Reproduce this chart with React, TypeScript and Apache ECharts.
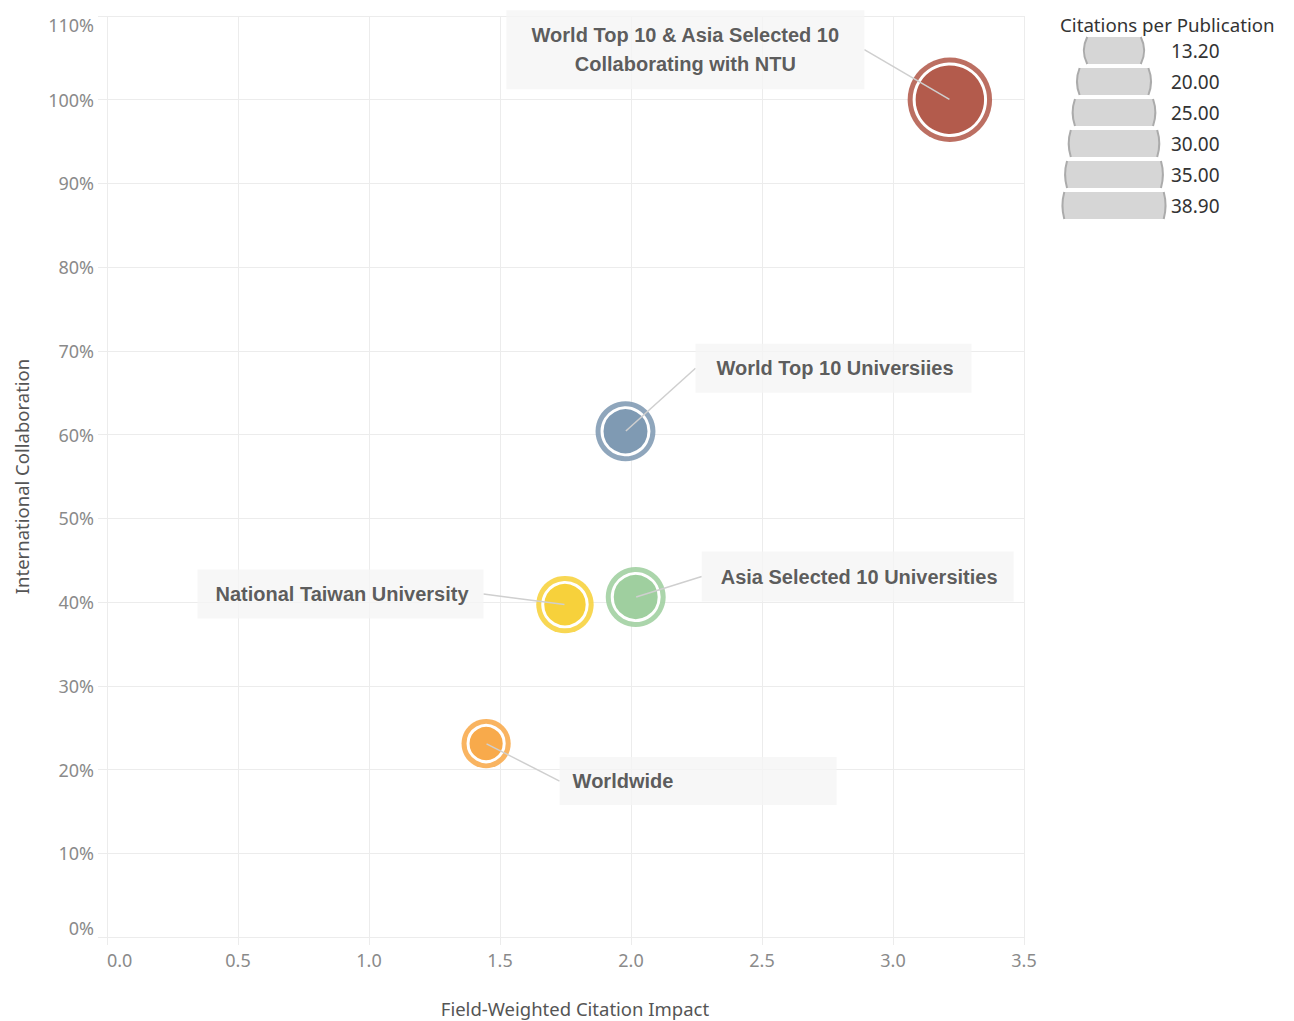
import React, { useEffect, useRef } from "react";
import * as echarts from "echarts";

// ---- data ----
const groups = [
  "World Top 10 & Asia Selected 10\nCollaborating with NTU",
  "World Top 10 Universiies",
  "Asia Selected 10 Universities",
  "National Taiwan University",
  "Worldwide",
];
const fwci = [3.217, 1.979, 2.018, 1.748, 1.447];
const intlCollab = [1.0, 0.604, 0.406, 0.397, 0.231];
const citationsPerPub = [38.9, 19.6, 19.6, 18.0, 13.2];
const groupColors = ["#b35b4c", "#7f9ab3", "#9fcf9f", "#f7d13b", "#f8aa4b"];

const xTicks = { min: 0, max: 3.5, interval: 0.5 };
const yTicks = { min: 0, max: 1.1, interval: 0.1 };
const legendValues = [13.2, 20.0, 25.0, 30.0, 35.0, 38.9];

// ---- layout (label boxes relative to their point) ----
const labelLayouts = [
  { dx: -264.5, dy: -50, align: "center", width: 338, padding: [10, 10, 11, 10] },
  { dx: 70, dy: -63, align: "left", width: 245, padding: [10, 10, 10, 21] },
  { dx: 66, dy: -20.5, align: "left", width: 283, padding: [10, 10, 11, 19] },
  { dx: -367.5, dy: -10.5, align: "left", width: 258, padding: [10, 10, 10, 18] },
  { dx: 73.5, dy: 37.5, align: "left", width: 254, padding: [10, 10, 9, 13] },
];

const BUBBLE_K = 6.77; // outer radius per sqrt(citations)
const LEGEND_K = 8.26;
const AXIS_FONT = "'Noto Sans', 'DejaVu Sans', sans-serif";
const LABEL_FONT = "'Liberation Sans', Arial, sans-serif";

export default function App() {
  const ref = useRef<HTMLDivElement>(null);

  useEffect(() => {
    document.body.style.margin = "0";
    if (!ref.current) return;
    const chart = echarts.init(ref.current, null, { renderer: "svg" });

    const points = groups.map((g, i) => [fwci[i], intlCollab[i], citationsPerPub[i], g]);

    // legend shapes
    const legendEls: any[] = [];
    const h = 13.5;
    legendValues.forEach((v, i) => {
      const r = LEGEND_K * Math.sqrt(v);
      const x1 = Math.sqrt(r * r - h * h);
      const fillD = `M ${x1} ${-h} A ${r} ${r} 0 0 1 ${x1} ${h} L ${-x1} ${h} A ${r} ${r} 0 0 1 ${-x1} ${-h} Z`;
      const arcD = `M ${x1} ${-h} A ${r} ${r} 0 0 1 ${x1} ${h} M ${-x1} ${h} A ${r} ${r} 0 0 1 ${-x1} ${-h}`;
      echarts.graphic.registerShape("legendFill" + i, echarts.graphic.extendPath(fillD, {}));
      echarts.graphic.registerShape("legendArc" + i, echarts.graphic.extendPath(arcD, {}));
      const cy = 50.5 + 31 * i;
      legendEls.push({
        type: "legendFill" + i,
        x: 1114,
        y: cy,
        silent: true,
        style: { fill: "#d6d6d6" },
      });
      legendEls.push({
        type: "legendArc" + i,
        x: 1114,
        y: cy,
        silent: true,
        style: { fill: "none", stroke: "#ababab", lineWidth: 2 },
      });
      legendEls.push({
        type: "text",
        x: 1171,
        y: cy,
        silent: true,
        style: {
          text: v.toFixed(2),
          fontSize: 19,
          fontFamily: AXIS_FONT,
          fill: "#333",
          verticalAlign: "middle",
          align: "left",
        },
      });
    });
    legendEls.push({
      type: "text",
      x: 1060,
      y: 24,
      silent: true,
      style: {
        text: "Citations per Publication",
        fontSize: 18.7,
        fontFamily: AXIS_FONT,
        fill: "#333",
        verticalAlign: "middle",
        align: "left",
      },
    });

    chart.setOption({
      animation: false,
      backgroundColor: "#ffffff",
      grid: {
        left: 107,
        right: 270,
        top: 16,
        bottom: 84,
        containLabel: false,
        outerBoundsMode: "none",
      },
      xAxis: {
        type: "value",
        min: xTicks.min,
        max: xTicks.max,
        interval: xTicks.interval,
        name: "Field-Weighted Citation Impact",
        nameLocation: "middle",
        nameGap: 62,
        nameTextStyle: {
          fontSize: 18.5,
          fontFamily: AXIS_FONT,
          color: "#555",
          padding: [0, 0, 0, 19],
        },
        axisLine: { show: false },
        axisTick: { show: true, length: 8, lineStyle: { color: "#ececec" } },
        splitLine: { show: true, lineStyle: { color: "#ececec", width: 1 } },
        axisLabel: {
          fontSize: 18,
          fontFamily: AXIS_FONT,
          color: "#8a8a8a",
          margin: 14,
          alignMinLabel: "left",
          formatter: (v: number) => v.toFixed(1),
        },
      },
      yAxis: {
        type: "value",
        min: yTicks.min,
        max: yTicks.max,
        interval: yTicks.interval,
        name: "International Collaboration",
        nameLocation: "middle",
        nameGap: 76,
        nameRotate: 90,
        nameTextStyle: { fontSize: 18.5, fontFamily: AXIS_FONT, color: "#555" },
        axisLine: { show: false },
        axisTick: { show: true, length: 9, lineStyle: { color: "#ececec" } },
        splitLine: { show: true, lineStyle: { color: "#ececec", width: 1 } },
        axisLabel: {
          fontSize: 18,
          fontFamily: AXIS_FONT,
          color: "#8a8a8a",
          margin: 13,
          verticalAlignMinLabel: "bottom",
          verticalAlignMaxLabel: "top",
          formatter: (v: number) => Math.round(v * 100) + "%",
        },
      },
      series: [
        {
          name: "halo",
          type: "scatter",
          silent: true,
          z: 2,
          data: points.map((p, i) => ({
            value: p,
            itemStyle: { color: groupColors[i], opacity: 0.88 },
          })),
          symbolSize: (val: any[]) => 2 * BUBBLE_K * Math.sqrt(val[2]),
          emphasis: { disabled: true },
        },
        {
          name: "bubbles",
          type: "scatter",
          silent: true,
          z: 3,
          data: points.map((p, i) => ({
            value: p,
            itemStyle: { color: groupColors[i], opacity: 1, borderColor: "#ffffff", borderWidth: 3 },
          })),
          symbolSize: (val: any[]) => 2 * BUBBLE_K * Math.sqrt(val[2]) - 13,
          emphasis: { disabled: true },
        },
        {
          name: "labels",
          type: "scatter",
          silent: true,
          z: 4,
          symbolSize: 1,
          itemStyle: { color: "rgba(0,0,0,0)" },
          data: points.map((p, i) => {
            const L = labelLayouts[i];
            return {
              value: p,
              label: {
                show: true,
                position: "inside",
                formatter: groups[i],
                align: L.align,
                verticalAlign: "middle",
                width: L.width,
                padding: L.padding,
                lineHeight: 29,
                backgroundColor: "#f5f5f5",
                color: "#333333",
                fontSize: 20,
                fontWeight: "bold",
                fontFamily: LABEL_FONT,
              },
            };
          }),
          labelLine: {
            show: true,
            lineStyle: { color: "#cfcfcf", width: 1.5 },
          },
          labelLayout: (params: any) => ({
            dx: labelLayouts[params.dataIndex].dx,
            dy: labelLayouts[params.dataIndex].dy,
            hideOverlap: false,
          }),
          emphasis: { disabled: true },
        },
      ],
      graphic: legendEls,
    });

    return () => chart.dispose();
  }, []);

  return <div ref={ref} style={{ width: 1294, height: 1021 }} />;
}
